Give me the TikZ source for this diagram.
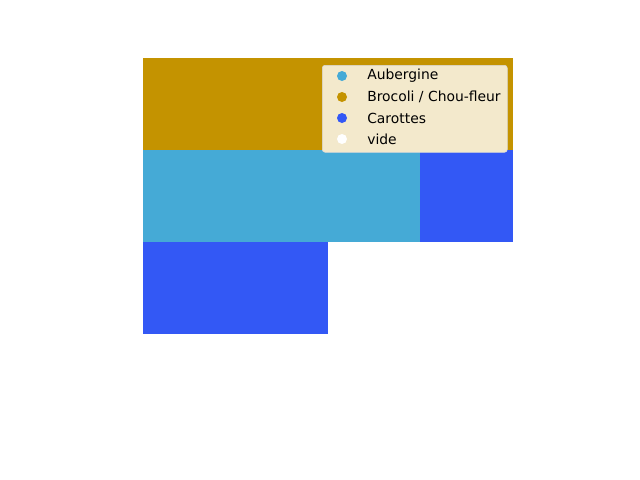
\documentclass[tikz,border=0pt]{standalone}
\usepackage{fontspec}
\setmainfont{DejaVu Sans}
\usepackage{tikz}
\usetikzlibrary{positioning}
\definecolor{aubergine}{HTML}{45AAD6}
\definecolor{brocoli}{HTML}{C49300}
\definecolor{carottes}{HTML}{3358F5}
\definecolor{legendfill}{HTML}{F3E9CC}

\begin{document}
\begin{tikzpicture}[x=0.72pt,y=-0.72pt]
    \tikzstyle{every node} = [font=\fontsize{10pt}{12pt}\selectfont]
    \tikzstyle{cell} = [draw=none, rectangle, inner sep=0pt, anchor=north west]
    \tikzstyle{dot} = [circle, inner sep=0pt, minimum size=7.2pt]
    \tikzstyle{entry} = [anchor=west, inner sep=0pt]
    \useasboundingbox (0,0) rectangle (640,480);
    % place cells
    \node[cell,fill=brocoli,minimum width=370*0.72pt,minimum height=92*0.72pt] (brocoliRow) at (143,58) {};
    \node[cell,fill=aubergine,minimum width=277*0.72pt,minimum height=92*0.72pt] (aubergineRow) at (143,150) {};
    \node[cell,fill=carottes,minimum width=93*0.72pt,minimum height=92*0.72pt] (carottesRight) at (420,150) {};
    \node[cell,fill=carottes,minimum width=185*0.72pt,minimum height=92*0.72pt] (carottesLow) at (143,242) {};

    % legend
    \node[cell,fill=legendfill,draw=black!15,rounded corners=2pt,minimum width=185*0.72pt,minimum height=87*0.72pt] (legendBox) at (322,65) {};
    \node[dot,fill=aubergine] (dotAubergine) at (342,76) {};
    \node[dot,fill=brocoli] (dotBrocoli) at (342,97) {};
    \node[dot,fill=carottes] (dotCarottes) at (342,118) {};
    \node[dot,fill=white] (dotVide) at (342,139) {};
    \node[entry] (txtAubergine) at (367,76) {Aubergine};
    \node[entry] (txtBrocoli) at (367,97) {Brocoli / Chou-fleur};
    \node[entry] (txtCarottes) at (367,118) {Carottes};
    \node[entry] (txtVide) at (367,139) {vide};
\end{tikzpicture}
\end{document}
